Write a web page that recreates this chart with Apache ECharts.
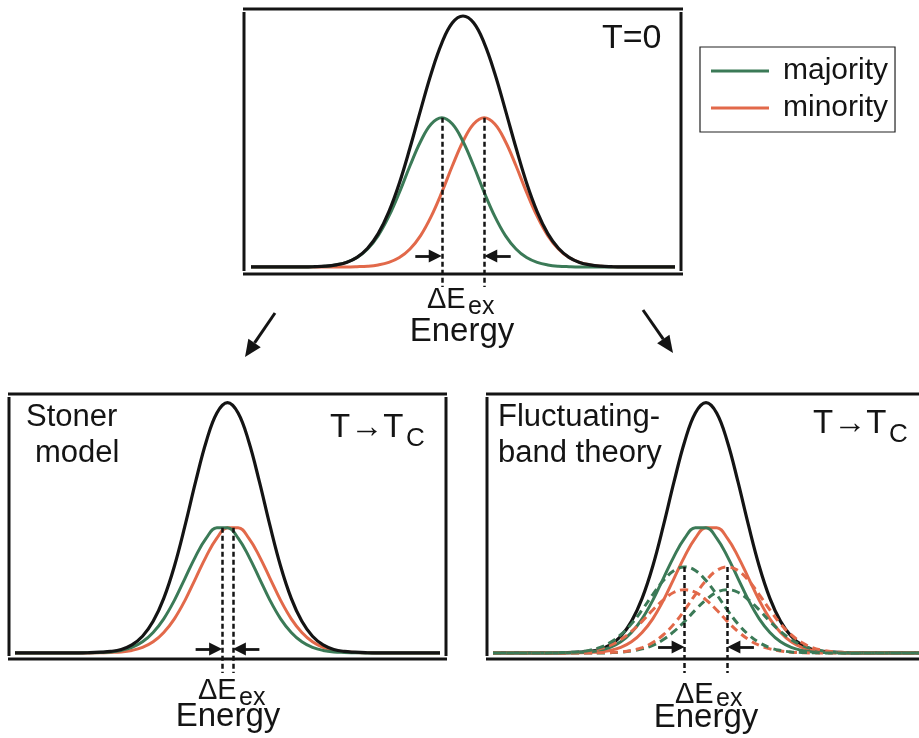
<!DOCTYPE html>
<html>
<head>
<meta charset="utf-8">
<script src="https://cdn.jsdelivr.net/npm/echarts@6/dist/echarts.min.js"></script>
<style>
  html, body { margin: 0; padding: 0; background: #fff; }
  #chart { width: 919px; height: 738px; }
</style>
</head>
<body>
<div id="chart"></div>
<script>
// energy grid shared by all three panels (arbitrary units, centre of band = 0)
const energy = [
  -10, -9.5, -9, -8.5, -8, -7.5, -7, -6.5, -6, -5.5, -5, -4.5, -4, -3.5, -3, -2.5, -2, -1.5, -1, -0.5,
  0, 0.5, 1, 1.5, 2, 2.5, 3, 3.5, 4, 4.5, 5, 5.5, 6, 6.5, 7, 7.5, 8, 8.5, 9, 9.5, 10
];

// T = 0 panel (DOS, black = total)
const topTotal = [0, 0, 0, 0, 0, 0, 0.1, 0.3, 0.8, 1.8, 3.8, 7.4, 13.2, 21.8, 33.2, 47.1, 62.0, 76.5, 88.5, 96.5,
  99.2, 96.5, 88.5, 76.5, 62.0, 47.1, 33.2, 21.8, 13.2, 7.4, 3.8, 1.8, 0.8, 0.3, 0.1, 0, 0, 0, 0, 0, 0];
const topMajority = [0, 0, 0, 0, 0, 0, 0.1, 0.3, 0.8, 1.8, 3.7, 7.1, 12.4, 20.0, 29.5, 40.0, 49.6, 56.5, 59, 56.5,
  49.6, 40.0, 29.5, 20.0, 12.4, 7.1, 3.7, 1.8, 0.8, 0.3, 0.1, 0, 0, 0, 0, 0, 0, 0, 0, 0, 0];
const topMinority = [0, 0, 0, 0, 0, 0, 0, 0, 0, 0, 0.1, 0.3, 0.8, 1.8, 3.7, 7.1, 12.4, 20.0, 29.5, 40.0,
  49.6, 56.5, 59, 56.5, 49.6, 40.0, 29.5, 20.0, 12.4, 7.1, 3.7, 1.8, 0.8, 0.3, 0.1, 0, 0, 0, 0, 0, 0];
const topSplit = [-1, 1];

// T -> Tc, Stoner model (solid curves reused in the fluctuating-band panel)
const tcTotal = [0, 0, 0, 0, 0, 0, 0, 0.1, 0.3, 0.6, 1.4, 3.2, 6.6, 12.5, 21.6, 34.3, 50.3, 67.7, 83.6, 94.9,
  99.0, 94.9, 83.6, 67.7, 50.3, 34.3, 21.6, 12.5, 6.6, 3.2, 1.4, 0.6, 0.3, 0.1, 0, 0, 0, 0, 0, 0, 0];
const tcMajority = [0, 0, 0, 0, 0, 0, 0, 0.1, 0.2, 0.4, 1.0, 2.2, 4.4, 8.1, 13.5, 20.8, 29.5, 38.2, 45.4, 49.5,
  49.5, 45.4, 38.2, 29.5, 20.8, 13.5, 8.1, 4.4, 2.2, 1.0, 0.4, 0.2, 0.1, 0, 0, 0, 0, 0, 0, 0, 0];
const tcMinority = [0, 0, 0, 0, 0, 0, 0, 0, 0.1, 0.2, 0.4, 1.0, 2.2, 4.4, 8.1, 13.5, 20.8, 29.5, 38.2, 45.4,
  49.5, 49.5, 45.4, 38.2, 29.5, 20.8, 13.5, 8.1, 4.4, 2.2, 1.0, 0.4, 0.2, 0.1, 0, 0, 0, 0, 0, 0, 0];
const stonerSplit = [-0.25, 0.25];

// fluctuating-band theory: local (dashed) bands
const localMajorityUp = [0, 0, 0, 0, 0, 0, 0.1, 0.2, 0.4, 1.0, 2.1, 4.1, 7.2, 11.5, 17.0, 23.1, 28.6, 32.6, 34, 32.6,
  28.6, 23.1, 17.0, 11.5, 7.2, 4.1, 2.1, 1.0, 0.4, 0.2, 0.1, 0, 0, 0, 0, 0, 0, 0, 0, 0, 0];
const localMinorityUp = [0, 0, 0, 0, 0, 0, 0, 0, 0, 0, 0.1, 0.2, 0.4, 1.0, 2.1, 4.1, 7.2, 11.5, 17.0, 23.1,
  28.6, 32.6, 34, 32.6, 28.6, 23.1, 17.0, 11.5, 7.2, 4.1, 2.1, 1.0, 0.4, 0.2, 0.1, 0, 0, 0, 0, 0, 0];
const localMinorityDown = [0, 0, 0, 0, 0, 0, 0, 0.1, 0.3, 0.8, 1.6, 3.0, 5.3, 8.5, 12.5, 17.0, 21.0, 24.0, 25, 24.0,
  21.0, 17.0, 12.5, 8.5, 5.3, 3.0, 1.6, 0.8, 0.3, 0.1, 0, 0, 0, 0, 0, 0, 0, 0, 0, 0, 0];
const localMajorityDown = [0, 0, 0, 0, 0, 0, 0, 0, 0, 0, 0, 0.1, 0.3, 0.8, 1.6, 3.0, 5.3, 8.5, 12.5, 17.0,
  21.0, 24.0, 25, 24.0, 21.0, 17.0, 12.5, 8.5, 5.3, 3.0, 1.6, 0.8, 0.3, 0.1, 0, 0, 0, 0, 0, 0, 0];
const fluctSplit = [-1, 1];

const GREEN = "#3b7a57";
const RED = "#e2694a";
const BLACK = "#141414";
const FONT = "'Liberation Sans', Arial, sans-serif";

const chart = echarts.init(document.querySelector("#chart"), null, { renderer: "canvas" });

function pairs(values) {
  return energy.map((e, i) => [e, values[i]]);
}

function curve(name, values, grid, color, dashed, extra) {
  return Object.assign({
    type: "line",
    name,
    xAxisIndex: grid,
    yAxisIndex: grid,
    data: pairs(values),
    smooth: 0.4,
    symbol: "none",
    silent: true,
    itemStyle: { color },
    lineStyle: { color, width: 3, type: dashed ? [8, 5] : "solid" }
  }, extra || {});
}

function splitLines(split, top) {
  return {
    silent: true,
    symbol: ["none", "none"],
    label: { show: false },
    lineStyle: { color: BLACK, width: 2.5, type: [5, 3] },
    data: split.map((c) => [{ coord: [c, top] }, { coord: [c, -7.9] }])
  };
}

function splitArrows(split, y) {
  return {
    silent: true,
    symbol: ["none", "triangle"],
    symbolSize: 13,
    label: { show: false },
    lineStyle: { color: BLACK, width: 2.8, type: "solid" },
    data: [
      [{ coord: [split[0] - 1.25, y] }, { coord: [split[0] - 0.31, y] }],
      [{ coord: [split[1] + 1.25, y] }, { coord: [split[1] + 0.31, y] }]
    ]
  };
}

function hLine(x1, x2, y) {
  return { type: "line", shape: { x1, y1: y, x2, y2: y }, style: { stroke: BLACK, lineWidth: 3 } };
}

function vLine(x, y1, y2) {
  return { type: "line", shape: { x1: x, y1, x2: x, y2 }, style: { stroke: BLACK, lineWidth: 3 } };
}

function label(text, x, baseline, size, align) {
  return {
    type: "text",
    x,
    y: baseline - 0.3465 * size,
    style: { text, fill: BLACK, font: `${size}px ${FONT}`, align: align || "left", verticalAlign: "middle" }
  };
}

function arrow(from, to) {
  const dx = to[0] - from[0];
  const dy = to[1] - from[1];
  const len = Math.hypot(dx, dy);
  const ux = dx / len, uy = dy / len;
  const bx = to[0] - 17 * ux, by = to[1] - 17 * uy;
  return [
    { type: "line", shape: { x1: from[0], y1: from[1], x2: bx, y2: by }, style: { stroke: BLACK, lineWidth: 3 } },
    { type: "polygon", shape: { points: [to, [bx + 7.5 * uy, by - 7.5 * ux], [bx - 7.5 * uy, by + 7.5 * ux]] }, style: { fill: BLACK } }
  ];
}

const grids = [
  { left: 251, top: 14, width: 424, height: 273.2 },
  { left: 15, top: 400, width: 425, height: 273.2 },
  { left: 493, top: 400, width: 426, height: 273.2 }
];

const axisX = grids.map((g, i) => ({ type: "value", gridIndex: i, min: -10, max: 10, show: false }));
const axisY = grids.map((g, i) => ({ type: "value", gridIndex: i, min: -8, max: 100, show: false }));

const series = [
  // T = 0
  curve("minority", topMinority, 0, RED, false, { markLine: splitArrows(topSplit, 4.3) }),
  curve("majority", topMajority, 0, GREEN, false, { markLine: splitLines(topSplit, Math.max(...topMajority)) }),
  curve("total", topTotal, 0, BLACK, false, { lineStyle: { color: BLACK, width: 3.2 } }),
  // Stoner model
  curve("stoner minority", tcMinority, 1, RED, false, { markLine: splitArrows(stonerSplit, 1.6) }),
  curve("stoner majority", tcMajority, 1, GREEN, false, { markLine: splitLines(stonerSplit, Math.max(...tcMajority)) }),
  curve("stoner total", tcTotal, 1, BLACK, false, { lineStyle: { color: BLACK, width: 3.2 } }),
  // fluctuating-band theory
  curve("fluct total", tcTotal, 2, BLACK, false, { lineStyle: { color: BLACK, width: 3.2 } }),
  curve("fluct minority", tcMinority, 2, RED, false),
  curve("fluct majority", tcMajority, 2, GREEN, false),
  curve("local minority down", localMinorityDown, 2, RED, true),
  curve("local majority down", localMajorityDown, 2, GREEN, true),
  curve("local minority up", localMinorityUp, 2, RED, true, { markLine: splitArrows(fluctSplit, 2.4) }),
  curve("local majority up", localMajorityUp, 2, GREEN, true, { markLine: splitLines(fluctSplit, Math.max(...localMajorityUp)) })
];

const graphics = [
  // frames
  hLine(243, 683, 9), hLine(243, 683, 274), vLine(244, 12, 271), vLine(681, 12, 271),
  hLine(8, 447, 394), hLine(8, 447, 659), vLine(9, 397, 656), vLine(446, 397, 656),
  hLine(486, 919, 394), hLine(486, 919, 659), vLine(487, 397, 656),
  // texts
  label("T=0", 602, 50, 34),
  label("\u0394E", 427, 310, 29), label("ex", 468, 316, 25),
  label("Energy", 462, 343, 33, "center"),
  label("Stoner", 26, 428, 31), label("model", 35, 464, 31),
  label("T\u2192T", 330, 439, 33), label("C", 406, 448, 26),
  label("\u0394E", 198, 701, 29), label("ex", 239, 707, 25),
  label("Energy", 228, 728, 33, "center"),
  label("Fluctuating-", 498, 428, 31), label("band theory", 498, 464, 31),
  label("T\u2192T", 813, 435, 33), label("C", 889, 444, 26),
  label("\u0394E", 675, 705, 29), label("ex", 716, 708, 25),
  label("Energy", 706, 729, 33, "center"),
  ...arrow([275, 313], [245, 357]),
  ...arrow([643, 310], [673, 353])
];

chart.setOption({
  animation: false,
  backgroundColor: "#fff",
  grid: grids,
  xAxis: axisX,
  yAxis: axisY,
  legend: {
    data: ["majority", "minority"],
    orient: "vertical",
    left: 700,
    top: 47,
    padding: [9, 7, 9, 11],
    itemGap: 7,
    itemWidth: 58,
    itemHeight: 3,
    icon: "rect",
    selectedMode: false,
    borderColor: "#222",
    borderWidth: 1.2,
    textStyle: { fontSize: 30, lineHeight: 30, color: BLACK, fontFamily: FONT, padding: [0, 0, 0, 9] }
  },
  series,
  graphic: graphics
});
</script>
</body>
</html>
